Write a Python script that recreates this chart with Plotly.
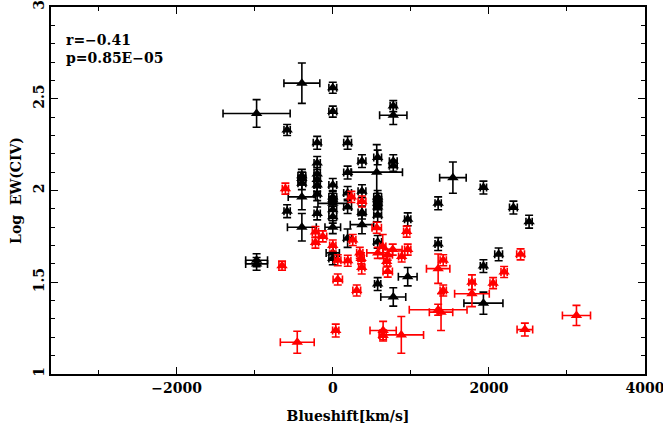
import plotly.graph_objects as go

# black sample: blueshift [km/s], log EW(CIV), errors
black_x = [-396, -976, 0, 0, -585, 775, 775, -200, 190, 575, 374, 775, 775, 563,
           190, -396, -396, -396, -200, -200, -200, -200, -200, -200,
           0, 0, 0, 0, 0, 0, 0, 0, 0, -396, -396, -585, -976, -976,
           190, 374, 190, 374, 374, 190, 575, 575, 575, 575, 575, 575, 575,
           960, 960, 775, 1539, 1930, 1350, 2314, 2515, 1350, 2125, 1930, 1930]
black_y = [2.585, 2.42, 2.56, 2.43, 2.33, 2.46, 2.41, 2.26, 2.26, 2.18, 2.16, 2.16, 2.135, 2.10,
           2.098, 2.08, 2.065, 2.04, 2.15, 2.09, 2.06, 2.03, 1.98, 1.875,
           2.03, 1.965, 1.95, 1.93, 1.895, 1.857, 1.80, 1.66, 1.63, 1.965, 1.80, 1.887, 1.62, 1.60,
           1.987, 1.996, 1.91, 1.88, 1.814, 1.74, 1.965, 1.95, 1.93, 1.91, 1.865, 1.72, 1.49,
           1.843, 1.53, 1.42, 2.07, 2.016, 1.93, 1.907, 1.83, 1.708, 1.652, 1.588, 1.386]
black_xerr = [230, 430, 50, 50, 40, 40, 175, 50, 50, 50, 50, 50, 50, 330,
              50, 50, 50, 50, 40, 40, 40, 40, 40, 40,
              50, 50, 50, 190, 50, 50, 100, 85, 50, 175, 185, 40, 140, 140,
              50, 50, 50, 50, 150, 50, 50, 50, 50, 50, 50, 50, 40,
              40, 120, 160, 170, 40, 40, 50, 40, 40, 50, 40, 250]
black_yerr = [0.11, 0.075, 0.03, 0.03, 0.03, 0.03, 0.05, 0.035, 0.035, 0.04, 0.035, 0.035, 0.03, 0.15,
              0.035, 0.035, 0.035, 0.035, 0.035, 0.035, 0.035, 0.035, 0.035, 0.035,
              0.035, 0.035, 0.035, 0.035, 0.035, 0.035, 0.035, 0.035, 0.035, 0.07, 0.075, 0.035, 0.035, 0.035,
              0.035, 0.035, 0.035, 0.035, 0.05, 0.05, 0.035, 0.035, 0.035, 0.035, 0.035, 0.035, 0.035,
              0.035, 0.05, 0.05, 0.085, 0.035, 0.035, 0.035, 0.035, 0.035, 0.035, 0.035, 0.06]

# red sample
red_x = [-607, -650, -222, -222, -128, 0, 64, 192, 64, 238, 374, 256, 346, 363, 371, 307,
         563, 640, 576, 704, 768, 883, 947, 960, 704, 691,
         1350, 1415, 1415, 1350, 1387, 1783, 1783, 2054, 2195, 2406, 3122, 2461,
         38, -455, 645, 645, 878]
red_y = [2.01, 1.59, 1.774, 1.716, 1.75, 1.70, 1.62, 1.617, 1.515, 1.965, 1.94, 1.73, 1.66, 1.63, 1.58, 1.455,
         1.797, 1.695, 1.66, 1.65, 1.678, 1.64, 1.776, 1.678, 1.558, 1.613,
         1.574, 1.62, 1.455, 1.35, 1.337, 1.50, 1.437, 1.495, 1.556, 1.652, 1.319, 1.242,
         1.237, 1.173, 1.237, 1.21, 1.213]
red_xerr = [40, 40, 40, 40, 50, 40, 40, 40, 60, 40, 50, 40, 40, 40, 40, 50,
            60, 40, 140, 60, 120, 40, 40, 40, 60, 40,
            150, 40, 40, 370, 150, 40, 222, 40, 40, 50, 180, 100,
            40, 217, 168, 40, 285]
red_yerr = [0.03, 0.025, 0.03, 0.03, 0.03, 0.03, 0.03, 0.03, 0.03, 0.03, 0.03, 0.03, 0.03, 0.03, 0.035, 0.03,
            0.03, 0.065, 0.03, 0.03, 0.03, 0.03, 0.03, 0.03, 0.03, 0.03,
            0.08, 0.03, 0.03, 0.03, 0.1, 0.04, 0.07, 0.03, 0.03, 0.03, 0.055, 0.035,
            0.035, 0.06, 0.05, 0.03, 0.1]

font = dict(family='DejaVu Serif', size=14, color='black', weight='bold')


def series(x, y, xerr, yerr, color):
    return go.Scatter(
        x=x, y=y, mode='markers',
        marker=dict(symbol='triangle-up', size=10, color=color),
        error_x=dict(type='data', array=xerr, color=color, thickness=1.6, width=4),
        error_y=dict(type='data', array=yerr, color=color, thickness=1.6, width=4),
        hoverinfo='x+y')


fig = go.Figure([series(black_x, black_y, black_xerr, black_yerr, 'black'),
                 series(red_x, red_y, red_xerr, red_yerr, 'red')])

axis = dict(showgrid=False, zeroline=False, showline=True, linecolor='black', linewidth=1.5,
            mirror='allticks', ticks='inside', tickcolor='black', tickwidth=1.3, ticklen=7,
            tickfont=font, automargin=False, ticklabeloverflow='allow')

fig.update_xaxes(range=[-3610, 4000], tick0=0, dtick=2000,
                 minor=dict(dtick=1000, ticks='inside', ticklen=4, tickcolor='black', tickwidth=1.3),
                 title=dict(text='Blueshift[km/s]', font=font, standoff=17), **axis)
fig.update_yaxes(range=[1, 3], tick0=1, dtick=0.5, tickangle=-90,
                 minor=dict(dtick=0.1, ticks='inside', ticklen=4, tickcolor='black', tickwidth=1.3),
                 title=dict(text='Log  EW(CIV)', font=font, standoff=6), **axis)

fig.add_annotation(text='r=\u22120.41', xref='paper', yref='paper', x=0.022, y=0.911,
                   xanchor='left', yanchor='middle', showarrow=False, font=font)
fig.add_annotation(text='p=0.85E\u221205', xref='paper', yref='paper', x=0.022, y=0.861,
                   xanchor='left', yanchor='middle', showarrow=False, font=font)

fig.update_layout(width=663, height=433, showlegend=False,
                  plot_bgcolor='white', paper_bgcolor='white',
                  margin=dict(l=51, r=18, t=7, b=59))

# drop the default 8px body margin so the figure fills the window
fig.write_html('out.html', config={'displayModeBar': False},
               post_script="document.body.style.margin='0';")
